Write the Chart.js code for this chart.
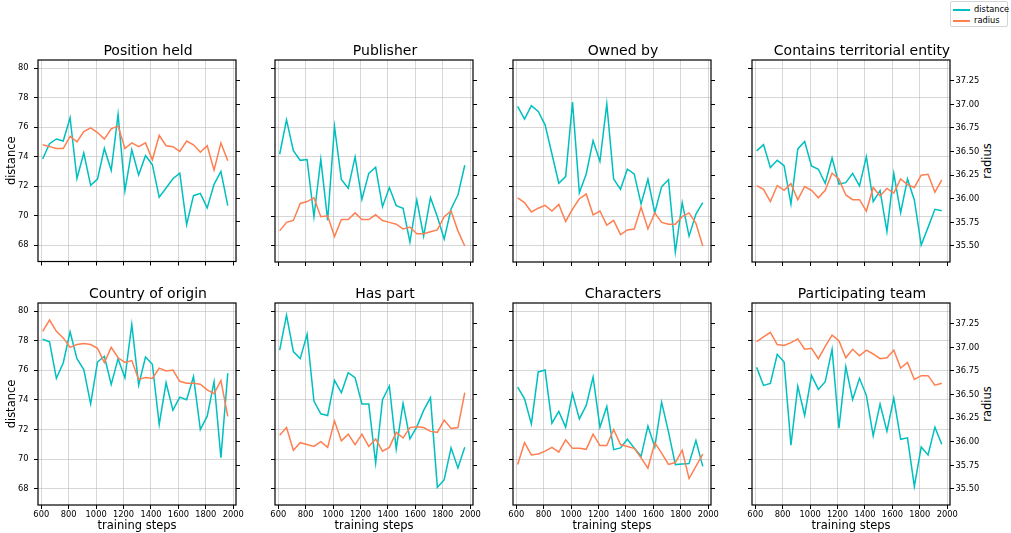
<!DOCTYPE html>
<html>
<head>
<meta charset="utf-8">
<script src="https://cdn.jsdelivr.net/npm/chart.js@4"></script>
<style>
  body { margin: 0; background: #fff; font-family: 'DejaVu Sans', sans-serif; }
  #fig { position: relative; width: 1011px; height: 533px; overflow: hidden; }
  #fig canvas { position: absolute; }
  .ylab2 { position: absolute; font-size: 11.5px; color: #000; white-space: nowrap;
           transform: translate(-50%, -50%) rotate(-90deg); }
  #legend { position: absolute; left: 950px; top: 1px; width: 58px; height: 26px; box-sizing: border-box;
            border: 1px solid #d4d4d4; border-radius: 2px; padding-top: 2px; font-size: 8.3px; }
  #legend div { height: 11px; line-height: 11px; white-space: nowrap; }
  #legend span { display: inline-block; width: 17px; height: 2px; margin: 0 4px 0 2px; vertical-align: middle; }
</style>
</head>
<body>
<div id="fig">
  <div id="legend">
    <div><span style="background:#00bfbf"></span>distance</div>
    <div><span style="background:#ff7f50"></span>radius</div>
  </div>
  <div class="ylab2" style="left:987px; top:161px">radius</div>
  <div class="ylab2" style="left:987px; top:404px">radius</div>
</div>
<script>
const steps = [610, 660, 710, 760, 810, 860, 910, 960, 1010, 1060, 1110, 1160, 1210, 1260,
               1310, 1360, 1410, 1460, 1510, 1560, 1610, 1660, 1710, 1760, 1810, 1860, 1910, 1960];

const titles = ['Position held', 'Publisher', 'Owned by', 'Contains territorial entity',
                'Country of origin', 'Has part', 'Characters', 'Participating team'];

// distance (left axis)
const positionHeldDist = [73.84, 74.88, 75.2, 75.06, 76.64, 72.53, 74.25, 72.06, 72.49, 74.56, 73.07, 76.86, 71.68, 74.47,
                          72.76, 74.07, 73.46, 71.25, 71.88, 72.51, 72.89, 69.4, 71.36, 71.52, 70.53, 72.13, 73.0, 70.68];
const publisherDist = [74.18, 76.5, 74.43, 73.77, 73.82, 69.96, 73.84, 69.71, 76.05, 72.47, 71.88, 74.0, 71.13, 72.89,
                       73.3, 70.64, 71.93, 70.71, 70.53, 68.25, 71.09, 68.65, 71.25, 69.96, 68.45, 70.48, 71.43, 73.44];
const ownedByDist = [77.41, 76.55, 77.47, 77.07, 76.17, 74.2, 72.22, 72.67, 77.7, 71.58, 72.85, 75.1, 73.7, 77.58,
                     72.51, 71.81, 73.17, 72.85, 70.82, 72.49, 70.23, 71.99, 72.47, 67.57, 70.91, 68.65, 70.14, 70.91];
const territorialDist = [74.41, 74.83, 73.28, 73.77, 73.41, 70.82, 74.54, 75.04, 73.39, 73.17, 72.22, 73.93, 72.17, 72.26,
                         72.89, 72.04, 74.02, 70.98, 71.72, 68.97, 72.89, 70.23, 72.51, 71.09, 68.04, 69.24, 70.46, 70.37];
const countryDist = [78.1, 77.92, 75.46, 76.5, 78.6, 76.79, 76.05, 73.74, 76.56, 76.95, 75.05, 76.79, 75.5, 79.1,
                     75.0, 76.9, 76.41, 72.34, 75.16, 73.31, 74.19, 74.01, 75.57, 72.0, 72.9, 75.23, 70.1, 75.8];
const hasPartDist = [77.36, 79.73, 77.27, 76.79, 78.44, 73.92, 73.06, 72.95, 75.32, 74.49, 75.84, 75.5, 73.72, 73.72,
                     69.74, 74.01, 74.94, 70.69, 73.76, 71.37, 72.18, 73.29, 74.15, 68.09, 68.61, 70.76, 69.4, 70.8];
const charactersDist = [74.87, 74.08, 72.38, 75.89, 76.02, 72.43, 73.22, 72.16, 74.42, 72.72, 73.63, 75.55, 72.16, 73.56,
                        70.64, 70.76, 71.34, 70.76, 70.19, 72.23, 70.82, 73.85, 71.84, 69.63, 69.67, 69.7, 71.25, 69.51];
const teamDist = [76.2, 74.98, 75.12, 77.08, 76.56, 70.94, 74.92, 72.95, 75.66, 74.71, 75.23, 77.42, 72.09, 76.25,
                  74.03, 75.46, 74.31, 71.57, 73.72, 71.89, 74.12, 71.34, 71.44, 68.16, 70.82, 70.28, 72.16, 71.01];

// radius (right axis)
const positionHeldRad = [36.57, 36.55, 36.53, 36.53, 36.66, 36.6, 36.71, 36.75, 36.7, 36.63, 36.74, 36.77, 36.53, 36.59,
                         36.55, 36.59, 36.41, 36.67, 36.56, 36.55, 36.5, 36.61, 36.57, 36.49, 36.56, 36.3, 36.59, 36.4];
const publisherRad = [35.66, 35.75, 35.77, 35.95, 35.97, 36.01, 35.81, 35.82, 35.6, 35.78, 35.78, 35.85, 35.78, 35.78,
                      35.83, 35.77, 35.75, 35.73, 35.68, 35.7, 35.63, 35.63, 35.65, 35.67, 35.81, 35.87, 35.66, 35.5];
const ownedByRad = [36.01, 35.96, 35.86, 35.9, 35.93, 35.87, 35.94, 35.76, 35.89, 36.0, 36.05, 35.83, 35.87, 35.72,
                    35.77, 35.62, 35.67, 35.68, 35.91, 35.68, 35.85, 35.75, 35.73, 35.73, 35.81, 35.85, 35.74, 35.5];
const territorialRad = [36.14, 36.1, 35.97, 36.14, 36.09, 36.16, 35.99, 36.13, 36.09, 36.01, 36.09, 36.27, 36.21, 36.04,
                        35.99, 35.99, 35.87, 36.12, 36.03, 36.11, 36.06, 36.21, 36.15, 36.12, 36.25, 36.26, 36.07, 36.2];
const countryRad = [37.17, 37.29, 37.17, 37.1, 37.0, 37.03, 37.04, 37.03, 36.99, 36.84, 37.0, 36.89, 36.84, 36.86,
                    36.66, 36.68, 36.67, 36.78, 36.75, 36.76, 36.64, 36.62, 36.62, 36.61, 36.55, 36.51, 36.65, 36.27];
const hasPartRad = [36.07, 36.15, 35.91, 35.99, 35.97, 35.95, 36.0, 35.94, 36.22, 36.01, 36.08, 35.97, 36.08, 35.95,
                    36.03, 35.9, 35.94, 36.1, 36.04, 36.15, 36.16, 36.15, 36.11, 36.1, 36.23, 36.14, 36.15, 36.52];
const charactersRad = [35.76, 35.99, 35.86, 35.87, 35.9, 35.94, 35.89, 36.02, 35.93, 35.93, 35.92, 36.08, 35.96, 35.96,
                       36.13, 35.97, 35.95, 35.93, 35.83, 35.72, 35.99, 35.88, 35.76, 35.78, 35.91, 35.61, 35.74, 35.87];
const teamRad = [37.06, 37.11, 37.16, 37.03, 37.02, 37.05, 37.09, 36.98, 36.99, 36.88, 37.01, 37.13, 37.07, 36.89,
                 36.98, 36.91, 36.97, 36.93, 36.88, 36.89, 36.97, 36.78, 36.84, 36.66, 36.7, 36.7, 36.6, 36.62];

const distanceSeries = [positionHeldDist, publisherDist, ownedByDist, territorialDist,
                        countryDist, hasPartDist, charactersDist, teamDist];
const radiusSeries = [positionHeldRad, publisherRad, ownedByRad, territorialRad,
                      countryRad, hasPartRad, charactersRad, teamRad];

Chart.defaults.font.family = "'DejaVu Sans', sans-serif";
Chart.defaults.color = '#000';

const colLeft = [38, 275, 513, 752];
const rowTop = [60, 303];
const plotW = 198, plotH = 202;
const leftW = 38, rightW = 60, titleH = 17;
const gridColor = 'rgba(176,176,176,0.5)';
const tickFont = { size: 8.3 };
const labelFont = { size: 11.5 };

// black box around each axes
const framePlugin = {
    id: 'frame',
    afterDraw(chart) {
        const a = chart.chartArea;
        const ctx = chart.ctx;
        ctx.save();
        ctx.strokeStyle = '#000';
        ctx.lineWidth = 1.2;
        ctx.strokeRect(a.left, a.top, a.right - a.left, a.bottom - a.top);
        ctx.restore();
    }
};

const fig = document.getElementById('fig');

titles.forEach((title, i) => {
    const row = i < 4 ? 0 : 1;
    const col = i % 4;
    const bottomH = row === 1 ? 28 : 10;

    const canvas = document.createElement('canvas');
    canvas.width = leftW + plotW + rightW;
    canvas.height = titleH + plotH + bottomH;
    canvas.style.left = (colLeft[col] - leftW) + 'px';
    canvas.style.top = (rowTop[row] - titleH) + 'px';
    fig.appendChild(canvas);

    new Chart(canvas.getContext('2d'), {
        type: 'line',
        data: {
            datasets: [{
                label: 'distance',
                data: steps.map((s, k) => ({ x: s, y: distanceSeries[i][k] })),
                borderColor: '#00bfbf',
                borderWidth: 1.5,
                pointRadius: 0,
                yAxisID: 'y',
                order: 1
            }, {
                label: 'radius',
                data: steps.map((s, k) => ({ x: s, y: radiusSeries[i][k] })),
                borderColor: '#ff7f50',
                borderWidth: 1.5,
                pointRadius: 0,
                yAxisID: 'y2',
                order: 0
            }]
        },
        options: {
            responsive: false,
            animation: false,
            devicePixelRatio: 1,
            layout: { padding: 0 },
            plugins: {
                legend: { display: false },
                tooltip: { enabled: false },
                title: {
                    display: true,
                    text: title,
                    color: '#000',
                    font: { size: 14, weight: 'normal', lineHeight: '16px' },
                    padding: { top: 0, bottom: 1 }
                }
            },
            scales: {
                x: {
                    type: 'linear',
                    min: 576,
                    max: 2020,
                    ticks: { stepSize: 200, includeBounds: false, display: row === 1, autoSkip: false,
                             maxRotation: 0, font: tickFont, color: '#000', padding: 1,
                             callback: v => String(v) },
                    grid: { color: gridColor, tickColor: '#000', tickLength: 4, tickWidth: 1 },
                    border: { display: false },
                    title: { display: row === 1, text: 'training steps', font: labelFont, color: '#000',
                             padding: { top: 0, bottom: 0 } },
                    afterFit: s => { s.height = bottomH; }
                },
                y: {
                    position: 'left',
                    min: 66.9,
                    max: 80.55,
                    ticks: { stepSize: 2, includeBounds: false, display: col === 0,
                             font: tickFont, color: '#000', padding: 5.5 },
                    grid: { color: gridColor, tickColor: '#000', tickLength: 4, tickWidth: 1 },
                    border: { display: false },
                    title: { display: col === 0, text: 'distance', font: labelFont, color: '#000',
                             padding: { top: 5, bottom: 0 } },
                    afterFit: s => { s.width = leftW; }
                },
                y2: {
                    position: 'right',
                    min: 35.33,
                    max: 37.47,
                    ticks: { stepSize: 0.25, includeBounds: false, display: col === 3,
                             font: tickFont, color: '#000', padding: 1.5,
                             callback: v => v.toFixed(2) },
                    grid: { drawOnChartArea: false, tickColor: '#000', tickLength: 4, tickWidth: 1 },
                    border: { display: false },
                    afterFit: s => { s.width = rightW; }
                }
            }
        },
        plugins: [framePlugin]
    });
});
</script>
</body>
</html>
